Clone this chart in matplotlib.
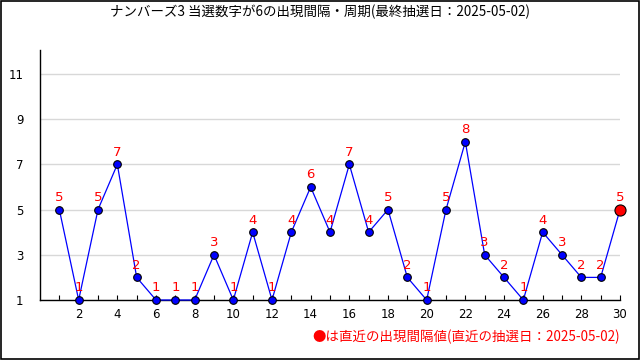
import matplotlib.pyplot as plt
from matplotlib.patches import Rectangle

plt.rcParams['font.family'] = ['Noto Sans CJK JP', 'DejaVu Sans']

draws = list(range(1, 31))
intervals = [5, 1, 5, 7, 2, 1, 1, 1, 3, 1, 4, 1, 4, 6, 4, 7, 4, 5, 2, 1,
             5, 8, 3, 2, 1, 4, 3, 2, 2, 5]
x_ticks = list(range(2, 31, 2))
y_ticks = [1, 3, 5, 7, 9, 11]
title = "ナンバーズ3 当選数字が6の出現間隔・周期(最終抽選日：2025-05-02)"
note = "●は直近の出現間隔値(直近の抽選日：2025-05-02)"

fig = plt.figure(figsize=(6.4, 3.6), dpi=100)
ax = fig.add_axes([40 / 640, 60 / 360, 580 / 640, 250 / 360])

ax.plot(draws, intervals, color="#0000ff", linewidth=0.9, zorder=3, clip_on=False)
ax.plot(draws[:-1], intervals[:-1], "o", color="#0000ff", markeredgecolor="black",
        markeredgewidth=0.8, markersize=5.5, zorder=4, clip_on=False)
ax.plot(draws[-1], intervals[-1], "o", color="#ff0000", markeredgecolor="black",
        markeredgewidth=0.8, markersize=8, zorder=5, clip_on=False)

for x, y in zip(draws, intervals):
    ax.annotate(str(y), (x, y), xytext=(0, 4), textcoords="offset points",
                ha="center", va="bottom", color="#ff0000", fontsize=9.5,
                family="DejaVu Sans", zorder=6)

ax.set_xlim(0, 30)
ax.set_ylim(1, 12.06)
ax.set_xticks(x_ticks)
ax.set_xticks(draws, minor=True)
ax.set_yticks(y_ticks)
ax.tick_params(axis="x", which="both", direction="in", length=3.5, width=0.8,
               labelsize=8.5, pad=6)
ax.tick_params(axis="y", length=0, labelsize=8.5, pad=12)
for lab in ax.get_xticklabels() + ax.get_yticklabels():
    lab.set_family("DejaVu Sans")

ax.grid(axis="y", color="#d8d8d8", linewidth=1)
ax.set_axisbelow(True)
ax.spines["top"].set_visible(False)
ax.spines["right"].set_visible(False)
ax.spines["left"].set_linewidth(1)
ax.spines["bottom"].set_linewidth(1)

fig.text(0.5, 1 - 12 / 360, title, ha="center", va="center", fontsize=9.7)
fig.text(620 / 640, 1 - 337 / 360, note, ha="right", va="center", fontsize=9.7,
         color="#ff0000")
fig.patches.append(Rectangle((0.001, 0.002), 0.997, 0.995, transform=fig.transFigure,
                             fill=False, edgecolor="black", linewidth=1.2))

fig.savefig("out.png", dpi=100)
plt.close(fig)
